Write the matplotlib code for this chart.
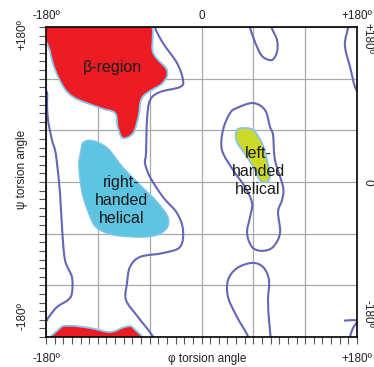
import numpy as np
import matplotlib.pyplot as plt
from matplotlib.path import Path
from matplotlib.patches import PathPatch

plt.rcParams['font.family'] = ['Liberation Sans', 'DejaVu Sans']

# outlines of the allowed regions, (phi, psi) in degrees
beta_region = [(-177, 192), (-68, 192), (-56, 150), (-40, 130), (-45, 115),
               (-68, 99), (-73, 76), (-79, 57), (-91, 51), (-97, 64),
               (-100, 80), (-117, 86), (-149, 99), (-164, 118), (-175, 150)]
beta_wrap = [(-174, -192), (-164, -170), (-152, -167), (-129, -169.5),
             (-109, -174), (-100, -173), (-89, -168.5), (-79, -169.5),
             (-70, -192)]
alpha_right = [(-137, 46), (-126, 48), (-109, 39.5), (-91, 17), (-71, -3.5),
               (-51.5, -23), (-39, -40.5), (-40, -53.5), (-51.5, -61.5),
               (-71, -64), (-102, -61.5), (-121, -53.5), (-129, -40.5),
               (-137, -17.5), (-140.5, 2), (-142, 22), (-139.5, 37)]
alpha_left = [(48, 62.7), (59.6, 60.4), (70, 45.3), (75.8, 25.5), (79.3, 8),
              (75.8, 0), (67.7, 2.3), (61.9, 14), (52.7, 29), (41.1, 46.4),
              (39.9, 57), (42.3, 61.5)]

# outer (generously allowed) contour, split where it wraps round the edges
outer_right = [(-55, 195), (-54, 180), (-44.6, 161.4), (-28.4, 138.2),
               (-21.4, 118.5), (-24.9, 110.3), (-48, 104.5), (-59.6, 95),
               (-63.1, 72), (-64.2, 33.7), (-65.4, 22), (-59.6, 5.8),
               (-44.6, -17.4), (-28.4, -36), (-21.4, -55.7), (-24.9, -75.5),
               (-44.6, -82.5), (-71.2, -87), (-82.8, -98.7), (-86.2, -117.3),
               (-87.4, -137), (-73.5, -156.8), (-56, -180), (-54, -195)]
outer_left = [(-195, 108), (-180, 106), (-178.8, 89.4), (-177.7, 72),
              (-173.1, 48.8), (-169.6, 37.2), (-167.3, 22), (-163.8, -12.8),
              (-161.5, -52.3), (-158, -90.6), (-150, -110.3), (-150, -129),
              (-154.5, -137), (-167.3, -145.2), (-177.7, -158), (-180, -161),
              (-195, -164)]
outer_edge_top = [(168, 195), (169.6, 180), (166, 159), (172, 133.5),
                  (180, 106), (195, 104)]
outer_edge_bottom = [(165, -161), (180, -161), (175.4, -169.5),
                     (171.9, -180), (170, -195)]
top_loop = [(55, 195), (56, 180), (64.3, 156.8), (71.2, 145.2), (81.6, 141.7),
            (87.4, 151), (87.4, 165), (81, 180), (80, 195)]
bottom_loop = [(54, -195), (54, -180), (41.1, -156.8), (30.7, -133.6),
               (30.7, -113.8), (41.1, -100), (58.5, -94), (71.2, -98.7),
               (78.1, -113.8), (77, -137), (78.1, -160.3), (80, -180),
               (80, -195)]
middle_loop = [(59.6, 91.7), (73.5, 83.6), (79.3, 63.9), (82.8, 54.6),
               (85.1, 25.5), (94.4, -5.8), (93.2, -20.9), (88.6, -34.8),
               (90.9, -59.2), (82.8, -75.5), (70, -80), (58.5, -75.5),
               (52.7, -59.2), (56.2, -40.6), (58.5, -24.4), (50.4, -5.8),
               (36.5, 14), (23.7, 37.2), (24.9, 60.4), (33, 80), (41.1, 86)]

grid_angles = [-180, -120, -60, 0, 60, 120, 180]
minor_angles = np.arange(-180, 181, 10)


def smooth_path(pts, closed):
    """Catmull-Rom through the points, handed to matplotlib as cubic Beziers."""
    p = np.asarray(pts, dtype=float)
    n = len(p)
    verts = [p[0]]
    codes = [Path.MOVETO]
    segs = n if closed else n - 1
    for i in range(segs):
        p0 = p[(i - 1) % n] if (closed or i > 0) else p[i]
        p1 = p[i % n]
        p2 = p[(i + 1) % n]
        p3 = p[(i + 2) % n] if (closed or i + 2 < n) else p2
        verts += [p1 + (p2 - p0) / 6, p2 - (p3 - p1) / 6, p2]
        codes += [Path.CURVE4] * 3
    if closed:
        verts.append(p[0])
        codes.append(Path.CLOSEPOLY)
    return Path(verts, codes)


fig = plt.figure(figsize=(3.74, 3.67), dpi=100)
ax = fig.add_axes([46 / 374, 30 / 367, 311 / 374, 310 / 367])
ax.set_xlim(-180, 180)
ax.set_ylim(-180, 180)

ax.set_xticks(grid_angles)
ax.set_yticks(grid_angles)
ax.set_xticks(minor_angles, minor=True)
ax.set_yticks(minor_angles, minor=True)
ax.tick_params(which='both', direction='out', length=5, width=0.8,
               color='#555555', labelbottom=False, labelleft=False)
ax.grid(True, which='major', color='#a8a8a8', linewidth=0.9)
ax.set_axisbelow(True)
for s in ax.spines.values():
    s.set_linewidth(1.2)
    s.set_color('black')
    s.set_zorder(5)

red = '#ed1c24'
edge = '#86c4ec'
for pts in (beta_region, beta_wrap):
    ax.add_patch(PathPatch(smooth_path(pts, True), facecolor=red,
                           edgecolor=edge, linewidth=1.3, zorder=2))
ax.add_patch(PathPatch(smooth_path(alpha_right, True), facecolor='#5ec4e2',
                       edgecolor='#7cc6ea', linewidth=1.0, zorder=2))
ax.add_patch(PathPatch(smooth_path(alpha_left, True), facecolor='#cdd928',
                       edgecolor=edge, linewidth=1.3, zorder=2))

purple = '#6566b6'
for pts, closed in ((outer_right, False), (outer_left, False),
                    (outer_edge_top, False), (outer_edge_bottom, False),
                    (top_loop, False), (bottom_loop, False),
                    (middle_loop, True)):
    ax.add_patch(PathPatch(smooth_path(pts, closed), facecolor='none',
                           edgecolor=purple, linewidth=1.5, zorder=3))

ax.text(-103.5, 133.5, 'β-region', ha='center', va='center', fontsize=11.5,
        color='#1a1a1a', zorder=4)
ax.text(-93, -22, 'right-\nhanded\nhelical', ha='center', va='center',
        fontsize=11.5, linespacing=1.25, color='#1a1a1a', zorder=4)
ax.text(65.5, 12, 'left-\nhanded\nhelical', ha='center', va='center',
        fontsize=11.5, linespacing=1.25, color='#1a1a1a', zorder=4)

# angle labels round the frame
tick_text = ['-180º', '0', '+180º']
tick_pos = [-180, 0, 180]
top_tf = ax.get_xaxis_transform()
for v, t in zip(tick_pos, tick_text):
    ax.text(v, 1.036, t, transform=top_tf, ha='center', va='center',
            fontsize=8.5, color='#222222')
ax.text(-180, -0.071, tick_text[0], transform=top_tf, ha='center',
        va='center', fontsize=8.5, color='#222222')
ax.text(180, -0.071, tick_text[2], transform=top_tf, ha='center',
        va='center', fontsize=8.5, color='#222222')
ax.text(0.518, -0.071, 'φ torsion angle', transform=ax.transAxes,
        ha='center', va='center', fontsize=8.5, color='#222222')

ax.text(-0.077, 0.977, tick_text[2], transform=ax.transAxes, rotation=90,
        ha='center', va='center', fontsize=8.5, color='#222222')
ax.text(-0.077, 0.068, tick_text[0], transform=ax.transAxes, rotation=90,
        ha='center', va='center', fontsize=8.5, color='#222222')
ax.text(-0.077, 0.542, 'ψ torsion angle', transform=ax.transAxes,
        rotation=90, ha='center', va='center', fontsize=8.5, color='#222222')

ax.text(1.033, 0.962, tick_text[2], transform=ax.transAxes, rotation=-90,
        ha='center', va='center', fontsize=8.5, color='#222222')
ax.text(1.033, 0.5, tick_text[1], transform=ax.transAxes, rotation=-90,
        ha='center', va='center', fontsize=8.5, color='#222222')
ax.text(1.033, 0.074, tick_text[0], transform=ax.transAxes, rotation=-90,
        ha='center', va='center', fontsize=8.5, color='#222222')

fig.savefig('out.png', dpi=100)
